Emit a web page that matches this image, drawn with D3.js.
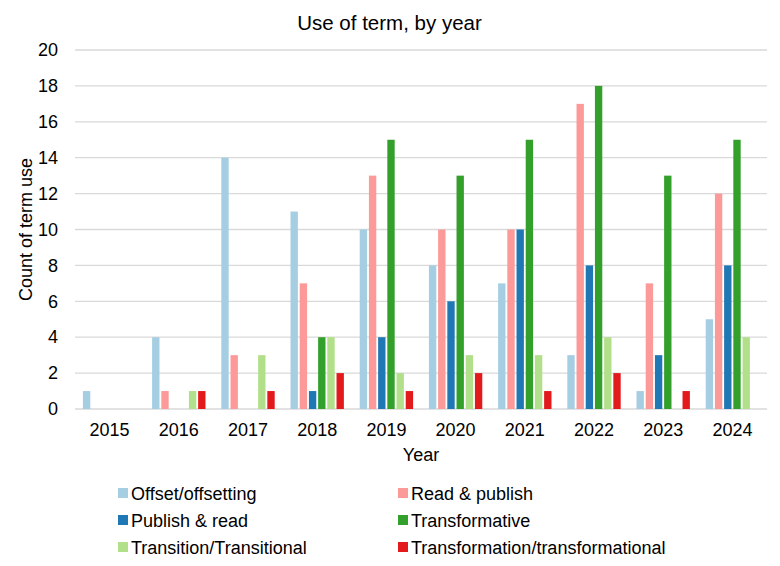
<!DOCTYPE html>
<html>
<head>
<meta charset="utf-8">
<script src="https://cdn.jsdelivr.net/npm/d3@7"></script>
<style>
  body { margin: 0; background: #fff; }
  text { font-family: "Liberation Sans", Arial, sans-serif; fill: #000; }
</style>
</head>
<body>
<div id="chart"></div>
<script>
// data
const years = ["2015", "2016", "2017", "2018", "2019", "2020", "2021", "2022", "2023", "2024"];
const seriesNames = ["Offset/offsetting", "Read & publish", "Publish & read", "Transformative", "Transition/Transitional", "Transformation/transformational"];
const offsetVals = [1, 4, 14, 11, 10, 8, 7, 3, 1, 5];
const readPublishVals = [0, 1, 3, 7, 13, 10, 10, 17, 7, 12];
const publishReadVals = [0, 0, 0, 1, 4, 6, 10, 8, 3, 8];
const transformativeVals = [0, 0, 0, 4, 15, 13, 15, 18, 13, 15];
const transitionVals = [0, 1, 3, 4, 2, 3, 3, 4, 0, 4];
const transformationVals = [0, 1, 1, 2, 1, 2, 1, 2, 1, 0];
const yTicks = [0, 2, 4, 6, 8, 10, 12, 14, 16, 18, 20];

const colors = ["#a6cee3", "#fb9a99", "#1f78b4", "#33a02c", "#b2df8a", "#e31a1c"];
const allVals = [offsetVals, readPublishVals, publishReadVals, transformativeVals, transitionVals, transformationVals];

let w = 780;
let h = 566;
let plotL = 75, plotR = 767, plotT = 50, plotB = 409;
const font = "'Liberation Sans', Arial, sans-serif";

const svg = d3.select("#chart").append("svg").attr("width", w).attr("height", h);

const x0 = d3.scaleBand().domain(years).range([plotL, plotR]);
const x1 = d3.scaleBand().domain(seriesNames).range([0, x0.bandwidth()]).paddingInner(0.2).paddingOuter(0.86);
const y = d3.scaleLinear().domain([0, 20]).range([plotB, plotT]);

// gridlines
svg.append("g").selectAll("line").data(yTicks).enter().append("line")
  .attr("x1", plotL).attr("x2", plotR)
  .attr("y1", d => y(d)).attr("y2", d => y(d))
  .attr("stroke", "#d9d9d9").attr("stroke-width", 1.3);

// y axis labels
const yAxis = d3.axisLeft(y).tickValues(yTicks).tickSize(0).tickPadding(17);
svg.append("g").attr("transform", "translate(" + plotL + ",0)").call(yAxis)
  .call(g => g.select(".domain").remove())
  .selectAll("text").style("font-size", "18px").style("font-family", font).attr("fill", "#000");

// x axis labels
const xAxis = d3.axisBottom(x0).tickSize(0).tickPadding(14);
svg.append("g").attr("transform", "translate(0," + plotB + ")").call(xAxis)
  .call(g => g.select(".domain").remove())
  .selectAll("text").style("font-size", "18px").style("font-family", font).attr("fill", "#000");

// bars
const groups = svg.append("g").selectAll("g").data(years).enter().append("g")
  .attr("transform", d => "translate(" + x0(d) + ",0)");

groups.selectAll("rect").data((d, i) => seriesNames.map((s, j) => ({ s: s, v: allVals[j][i], c: colors[j] })))
  .enter().append("rect")
  .attr("x", d => x1(d.s))
  .attr("width", x1.bandwidth())
  .attr("y", d => y(d.v))
  .attr("height", d => y(0) - y(d.v))
  .attr("fill", d => d.c);

// title
svg.append("text").attr("x", 389.5).attr("y", 30).attr("text-anchor", "middle")
  .style("font-size", "20.5px").text("Use of term, by year");

// axis titles
svg.append("text").attr("x", (plotL + plotR) / 2).attr("y", 461).attr("text-anchor", "middle")
  .style("font-size", "18px").text("Year");
svg.append("text").attr("transform", "translate(32," + ((plotT + plotB) / 2) + ") rotate(-90)")
  .attr("text-anchor", "middle").style("font-size", "18px").text("Count of term use");

// legend
const legend = svg.append("g").selectAll("g").data(seriesNames).enter().append("g")
  .attr("transform", (d, i) => "translate(" + (i % 2 === 0 ? 118 : 398) + "," + (493 + Math.floor(i / 2) * 27) + ")");
legend.append("rect").attr("x", 0).attr("y", -5).attr("width", 10).attr("height", 10)
  .attr("fill", (d, i) => colors[i]);
legend.append("text").attr("x", 13).attr("y", 6.5).style("font-size", "18px").text(d => d);
</script>
</body>
</html>
